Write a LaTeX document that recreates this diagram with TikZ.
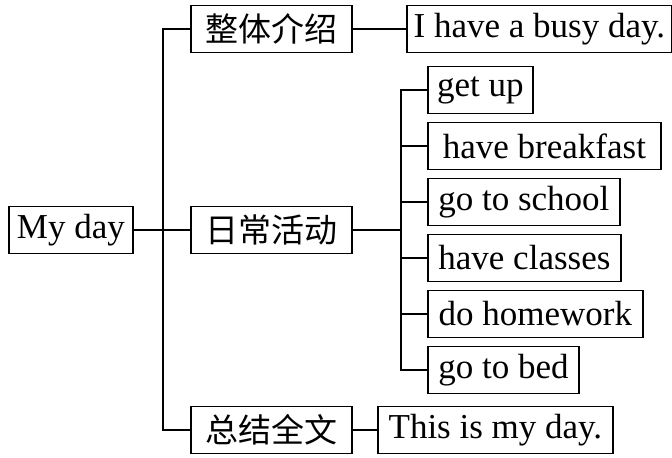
\documentclass[tikz,border=0pt]{standalone}
\usepackage{fontspec}
\setmainfont{Liberation Serif}
\newfontfamily\cjk{Noto Sans CJK SC}

\tikzset{
  box/.style={draw, line width=0.9pt, minimum height=23.5pt, inner sep=0pt,
    anchor=west, font=\fontsize{17.5}{20}\selectfont},
  cbox/.style={box, font=\fontsize{16.5}{20}\selectfont\cjk},
  link/.style={line width=0.8pt}
}

\begin{document}
\begin{tikzpicture}[x=0.5pt,y=-0.5pt, line join=miter]
\useasboundingbox (0,0) rectangle (672,457);

% 主题
\node[box, minimum width=62pt] (day) at (8,230) {My day};

% 三个部分
\node[cbox, minimum width=80.5pt] (intro) at (190,29)  {整体介绍};
\node[cbox, minimum width=80.5pt] (daily) at (190,230) {日常活动};
\node[cbox, minimum width=80.5pt] (sum)   at (190,430) {总结全文};

% 句子
\node[box, minimum width=132.5pt] (busy) at (406,29)  {I have a busy day.};
\node[box, minimum width=117.5pt] (mine) at (377,430) {This is my day.};

% 日常活动
\node[box, minimum width=52.5pt]  (getup)     at (427,90)  {get up};
\node[box, minimum width=116.5pt] (breakfast) at (427,146) {have breakfast};
\node[box, minimum width=96pt]    (school)    at (427,202) {go to school};
\node[box, minimum width=96.5pt]  (classes)   at (427,258) {have classes};
\node[box, minimum width=107.5pt] (homework)  at (427,314) {do homework};
\node[box, minimum width=75.5pt]  (bed)       at (427,370) {go to bed};

% 分叉点
\coordinate (trunkA) at (163,230);
\coordinate (trunkB) at (401,230);

% 连线
\draw[link] (intro.west) -- (intro.west -| trunkA) |- (sum.west);
\draw[link] (day) -- (daily);
\draw[link] (intro) -- (busy);
\draw[link] (sum) -- (mine);
\draw[link] (daily) -- (trunkB);
\draw[link] (getup.west) -- (getup.west -| trunkB) |- (bed.west);
\foreach \n in {breakfast,school,classes,homework}
  \draw[link] (\n.west) -- (\n.west -| trunkB);

\end{tikzpicture}
\end{document}
